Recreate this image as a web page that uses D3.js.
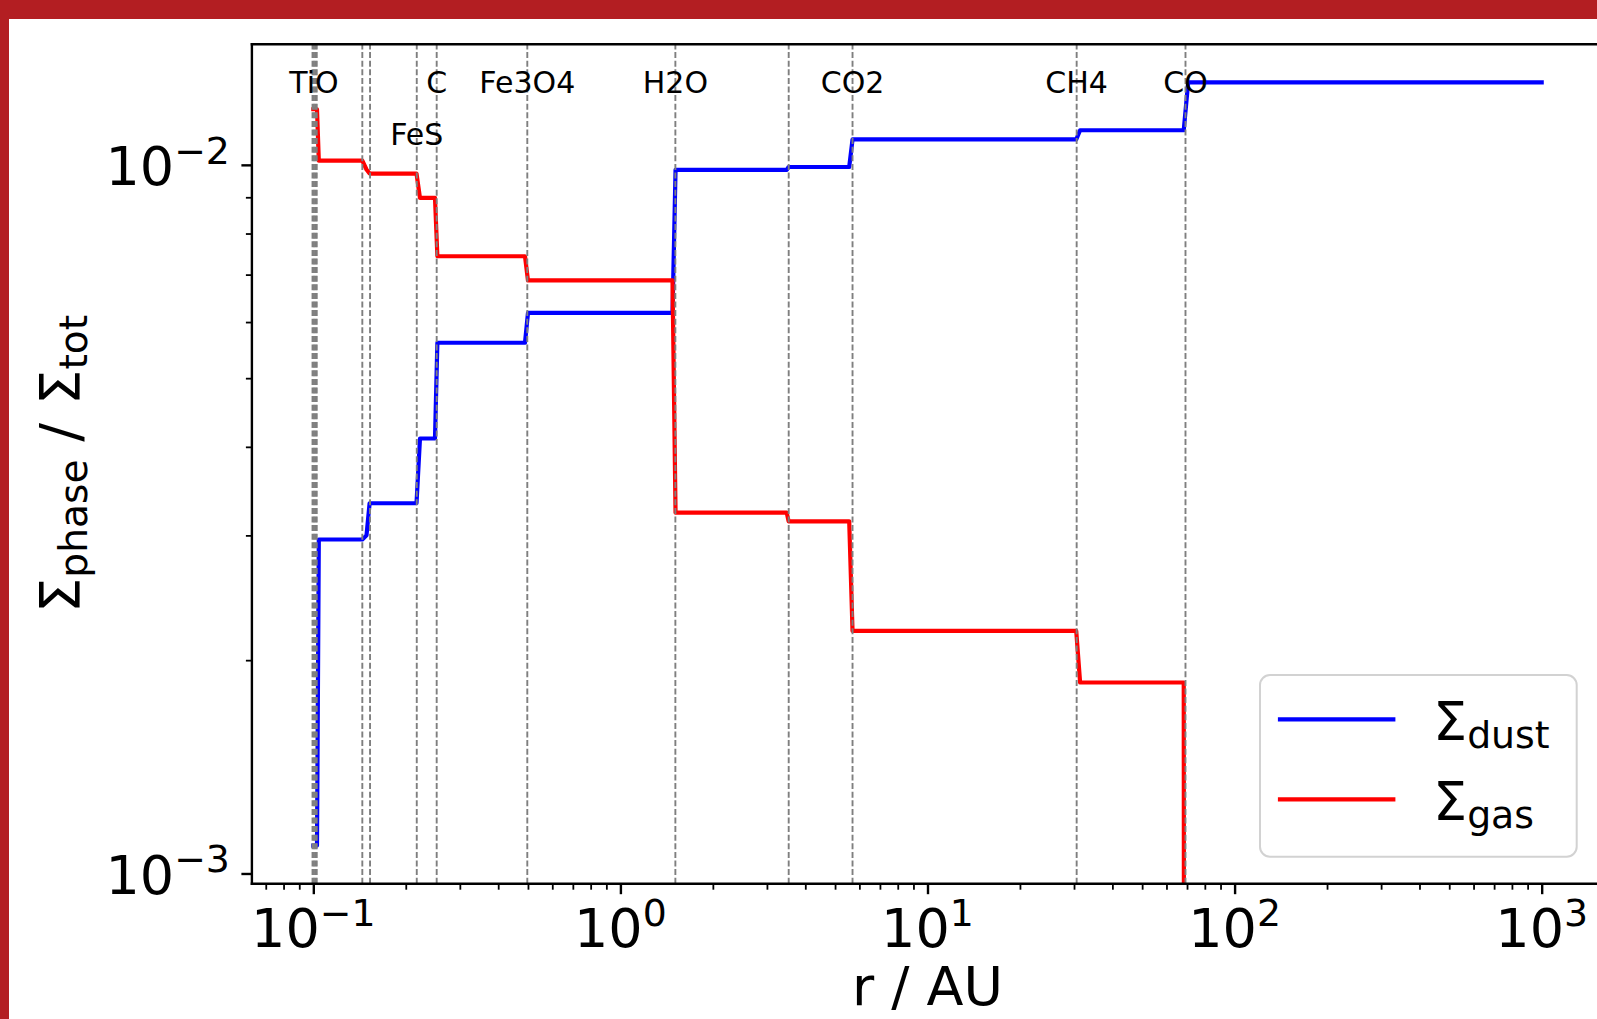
<!DOCTYPE html>
<html><head><meta charset="utf-8">
<script src="https://cdn.jsdelivr.net/npm/d3@7"></script>
<style>
html,body{margin:0;padding:0;background:#fff;overflow:hidden}
svg{display:block}
text{font-family:"DejaVu Sans",sans-serif;fill:#000}
</style></head><body>
<svg id="chart" width="1597" height="1019"></svg>
<script>
// ---------- data ----------
const radius = [0.1, 0.1028, 0.1042, 0.1444, 0.1490, 0.1525, 0.2168, 0.2225, 0.2490, 0.2535,
                0.4890, 0.5000, 1.478, 1.512, 3.48, 3.53, 5.56, 5.70, 30.5, 31.4, 68.3, 70.6, 1000];
const gasFraction = [0.01198, 0.01198, 0.01014, 0.01014, 0.00985, 0.00972, 0.00972, 0.00898, 0.00898, 0.00743,
                     0.00743, 0.00687, 0.00687, 0.00323, 0.00323, 0.00314, 0.00314, 0.00220, 0.00220, 0.00186, 0.00186, 0, 0];
const dustFraction = [0.001095, 0.001095, 0.00296, 0.00296, 0.00300, 0.00333, 0.00333, 0.00411, 0.00411, 0.00561,
                      0.00561, 0.00618, 0.00618, 0.00984, 0.00984, 0.00993, 0.00993, 0.01086, 0.01086, 0.01119, 0.01119, 0.01307, 0.01307];
const snowlineRadius = [0.0994, 0.1005, 0.1016, 0.1026, 0.1444, 0.1530, 0.2172, 0.2522, 0.4975, 1.510, 3.532, 5.70, 30.6, 69.2];
const snowlineLabel  = ["", "TiO", "", "", "", "", "FeS", "C", "Fe3O4", "H2O", "", "CO2", "CH4", "CO"];
const xTickExponents = [-1, 0, 1, 2, 3];
const yTickExponents = [-3, -2];
const legendSeries = [{sub: "dust", color: "#0000ff"}, {sub: "gas", color: "#ff0000"}];

// ---------- layout ----------
const W = 1597, H = 1019;
const P = {left: 251.9, right: 1603.1, top: 44.3, bottom: 883.7};
const svg = d3.select("#chart");
svg.append("rect").attr("width", W).attr("height", H).attr("fill", "#fff");

function logPad(lo, hi, f) {
  const a = Math.log10(lo), b = Math.log10(hi), m = f * (b - a);
  return [Math.pow(10, a - m), Math.pow(10, b + m)];
}
const xExt = d3.extent(radius);
const posVals = dustFraction.concat(gasFraction).filter(v => v > 0);
const yExt = d3.extent(posVals);
const x = d3.scaleLog().domain(logPad(xExt[0], xExt[1], 0.05)).range([P.left, P.right]);
const y = d3.scaleLog().domain(logPad(yExt[0], yExt[1], 0.05)).range([P.bottom, P.top]);

svg.append("defs").append("clipPath").attr("id", "plotclip")
  .append("rect").attr("x", P.left).attr("y", P.top)
  .attr("width", P.right - P.left).attr("height", P.bottom - P.top);

const plot = svg.append("g").attr("clip-path", "url(#plotclip)");
const rows = radius.map((r, i) => ({r, dust: dustFraction[i], gas: gasFraction[i]}));
const lineOf = key => d3.line().x(d => x(d.r)).y(d => y(Math.max(d[key], 1e-12)));

plot.append("path").datum(rows).attr("d", lineOf("dust"))
  .attr("fill", "none").attr("stroke", "#0000ff").attr("stroke-width", 4.2)
  .attr("stroke-linejoin", "round").attr("stroke-linecap", "square");
plot.append("path").datum(rows).attr("d", lineOf("gas"))
  .attr("fill", "none").attr("stroke", "#ff0000").attr("stroke-width", 4.2)
  .attr("stroke-linejoin", "round").attr("stroke-linecap", "square");

// snowlines on top
plot.selectAll("line.snow").data(snowlineRadius).join("line")
  .attr("class", "snow")
  .attr("x1", d => x(d)).attr("x2", d => x(d))
  .attr("y1", P.bottom).attr("y2", P.top)
  .attr("stroke", "#7f7f7f").attr("stroke-width", 1.9)
  .attr("stroke-dasharray", "6,2.6");

// snowline labels, placed right-to-left, dropping a row when overlapping
const labelG = svg.append("g");
const rowBase = [P.top + 48.4, P.top + 100.7];
const labelled = snowlineRadius.map((r, i) => ({r, t: snowlineLabel[i]})).filter(d => d.t);
let lastLeft = [Infinity, Infinity];
labelled.slice().reverse().forEach(d => {
  const t = labelG.append("text").attr("x", x(d.r)).attr("y", rowBase[0])
    .attr("text-anchor", "middle").attr("font-size", 30).text(d.t);
  const w = t.node().getComputedTextLength();
  const l = x(d.r) - w / 2, r = x(d.r) + w / 2;
  let row = 0;
  if (r > lastLeft[0] - 2) row = 1;
  t.attr("y", rowBase[row]);
  lastLeft[row] = l;
});

// ---------- axes ----------
const isMajor = v => Math.abs(Math.log10(v) - Math.round(Math.log10(v))) < 1e-6;
const xMajor = xTickExponents.map(e => Math.pow(10, e));
const xMinor = x.ticks().filter(v => !isMajor(v));
const yMajor = yTickExponents.map(e => Math.pow(10, e));
const yMinor = y.ticks().filter(v => !isMajor(v));

function styleAxis(g, w) {
  g.select(".domain").remove();
  g.selectAll(".tick line").attr("stroke", "#000").attr("stroke-width", w);
  g.selectAll(".tick text").remove();
}
svg.append("g").attr("transform", `translate(0,${P.bottom})`)
  .call(d3.axisBottom(x).tickValues(xMajor).tickSize(10.5).tickFormat(""))
  .call(g => styleAxis(g, 2.4));
svg.append("g").attr("transform", `translate(0,${P.bottom})`)
  .call(d3.axisBottom(x).tickValues(xMinor).tickSize(6).tickFormat(""))
  .call(g => styleAxis(g, 1.8));
svg.append("g").attr("transform", `translate(${P.left},0)`)
  .call(d3.axisLeft(y).tickValues(yMajor).tickSize(10.5).tickFormat(""))
  .call(g => styleAxis(g, 2.4));
svg.append("g").attr("transform", `translate(${P.left},0)`)
  .call(d3.axisLeft(y).tickValues(yMinor).tickSize(6).tickFormat(""))
  .call(g => styleAxis(g, 1.8));

// spines
const spines = svg.append("g").attr("stroke", "#000").attr("stroke-width", 2.4).attr("stroke-linecap", "square");
spines.append("line").attr("x1", P.left).attr("x2", P.left).attr("y1", P.top).attr("y2", P.bottom);
spines.append("line").attr("x1", P.left).attr("x2", P.right).attr("y1", P.bottom).attr("y2", P.bottom);
spines.append("line").attr("x1", P.left).attr("x2", P.right).attr("y1", P.top).attr("y2", P.top);
spines.append("line").attr("x1", P.right).attr("x2", P.right).attr("y1", P.top).attr("y2", P.bottom);

const expStr = e => (e < 0 ? "\u2212" + Math.abs(e) : String(e));
function powerLabel(sel, e) {
  sel.append("tspan").text("10");
  sel.append("tspan").attr("font-size", 37.8).attr("dy", -21.5).text(expStr(e));
}
xTickExponents.forEach(e => {
  const t = svg.append("text").attr("x", x(Math.pow(10, e))).attr("y", P.bottom + 63.3)
    .attr("text-anchor", "middle").attr("font-size", 54);
  powerLabel(t, e);
});
yTickExponents.forEach(e => {
  const t = svg.append("text").attr("x", P.left - 22).attr("y", y(Math.pow(10, e)) + 20.5)
    .attr("text-anchor", "end").attr("font-size", 54);
  powerLabel(t, e);
});

// axis titles
svg.append("text").attr("x", (P.left + P.right) / 2).attr("y", 1005)
  .attr("text-anchor", "middle").attr("font-size", 54).text("r / AU");

const yl = svg.append("text").attr("transform", `translate(79,${(P.top + P.bottom) / 2}) rotate(-90)`)
  .attr("text-anchor", "middle").attr("font-size", 56);
yl.append("tspan").text("\u03A3");
yl.append("tspan").attr("font-size", 39.2).attr("dy", 8).text("phase");
yl.append("tspan").attr("dy", -8).text(" / \u03A3");
yl.append("tspan").attr("font-size", 39.2).attr("dy", 8).text("tot");

// ---------- legend ----------
const lg = svg.append("g");
lg.append("rect").attr("x", 1260).attr("y", 675).attr("width", 316.7).attr("height", 181.7)
  .attr("rx", 10).attr("fill", "#fff").attr("fill-opacity", 0.8)
  .attr("stroke", "#d2d2d2").attr("stroke-width", 2);
legendSeries.forEach((s, i) => {
  const ly = 719.3 + i * 80;
  lg.append("line").attr("x1", 1280).attr("x2", 1393.3).attr("y1", ly).attr("y2", ly)
    .attr("stroke", s.color).attr("stroke-width", 4.2).attr("stroke-linecap", "square");
  const t = lg.append("text").attr("x", 1433).attr("y", ly + 20.7).attr("font-size", 54);
  t.append("tspan").text("\u03A3");
  t.append("tspan").attr("font-size", 37.8).attr("dy", 8).text(s.sub);
});

// ---------- frame ----------
svg.append("rect").attr("x", 0).attr("y", 0).attr("width", W).attr("height", 19).attr("fill", "#b31e22");
svg.append("rect").attr("x", 0).attr("y", 0).attr("width", 9).attr("height", H).attr("fill", "#b31e22");
</script>
</body></html>
